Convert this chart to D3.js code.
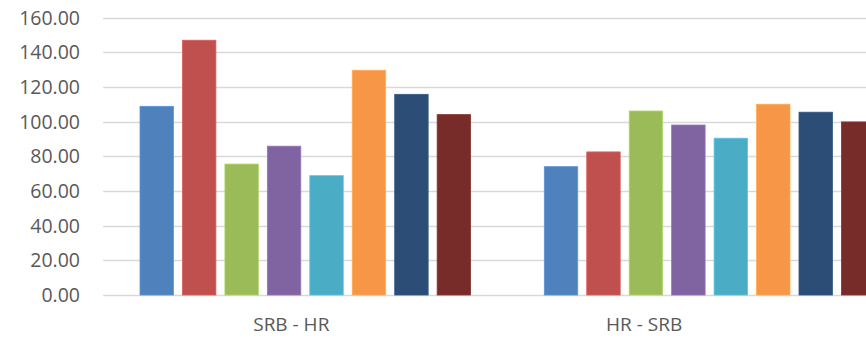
<!DOCTYPE html>
<html><head><meta charset="utf-8">
<script src="https://cdn.jsdelivr.net/npm/d3@7"></script>
<style>body{margin:0;background:#fff;overflow:hidden}svg{display:block}</style>
</head><body><svg id="c" width="866" height="338"></svg>
<script>
const categories = ["SRB - HR", "HR - SRB"];
const seriesNames = ["S1","S2","S3","S4","S5","S6","S7","S8"];
const seriesColors = ["#4F81BD","#C0504D","#9BBB59","#8064A2","#4BACC6","#F79646","#2C4D75","#772C2A"];
const valuesSRB_HR = [108.8, 146.9, 75.5, 85.8, 68.8, 129.6, 115.7, 104.0];
const valuesHR_SRB = [74.0, 82.5, 106.1, 98.0, 90.4, 110.0, 105.4, 99.8];
const yTicks = [0,20,40,60,80,100,120,140,160];

const values = [valuesSRB_HR, valuesHR_SRB];
const svg = d3.select("#c");
const fontFam = "'Open Sans', 'Noto Sans', sans-serif";

const y = d3.scaleLinear().domain([0,160]).range([295,17.5]);
const x0 = d3.scaleBand().domain(categories).range([103.2, 911.8]).padding(0);
const x1 = d3.scaleBand().domain(d3.range(seriesNames.length))
  .range([36.8, 367.4]).paddingInner(0.212).paddingOuter(0);
// category label positions as in reference
const xLabel = d3.scalePoint().domain(categories).range([291.3, 644.1]);

// gridlines
svg.append("g").selectAll("line").data(yTicks).join("line")
  .attr("x1", 103.2).attr("x2", 911.8)
  .attr("y1", d => Math.round(y(d)) + 0.5).attr("y2", d => Math.round(y(d)) + 0.5)
  .attr("stroke", "#d9d9d9").attr("stroke-width", 1.3);

// y labels
svg.append("g").selectAll("text").data(yTicks).join("text")
  .attr("x", 80).attr("y", d => y(d)).attr("dy", "0.36em")
  .attr("text-anchor", "end").attr("fill", "#595959")
  .style("font-family", fontFam).style("font-size", "19.5px")
  .text(d => d3.format(".2f")(d));

// bars
const g = svg.append("g").selectAll("g").data(categories).join("g")
  .attr("transform", d => `translate(${x0(d)},0)`);
g.selectAll("rect").data((d,i) => values[i].map((v,j) => ({v, j})))
  .join("rect")
  .attr("x", d => x1(d.j)).attr("width", x1.bandwidth())
  .attr("y", d => y(d.v)).attr("height", d => y(0) - y(d.v))
  .attr("fill", d => seriesColors[d.j])
  .attr("stroke", d => d3.color(seriesColors[d.j]).brighter(0.4))
  .attr("stroke-width", 0.8);

// category labels
svg.append("g").selectAll("text").data(categories).join("text")
  .attr("x", d => xLabel(d)).attr("y", 331)
  .attr("text-anchor", "middle").attr("fill", "#595959")
  .style("font-family", fontFam).style("font-size", "19px")
  .text(d => d);
</script></body></html>
